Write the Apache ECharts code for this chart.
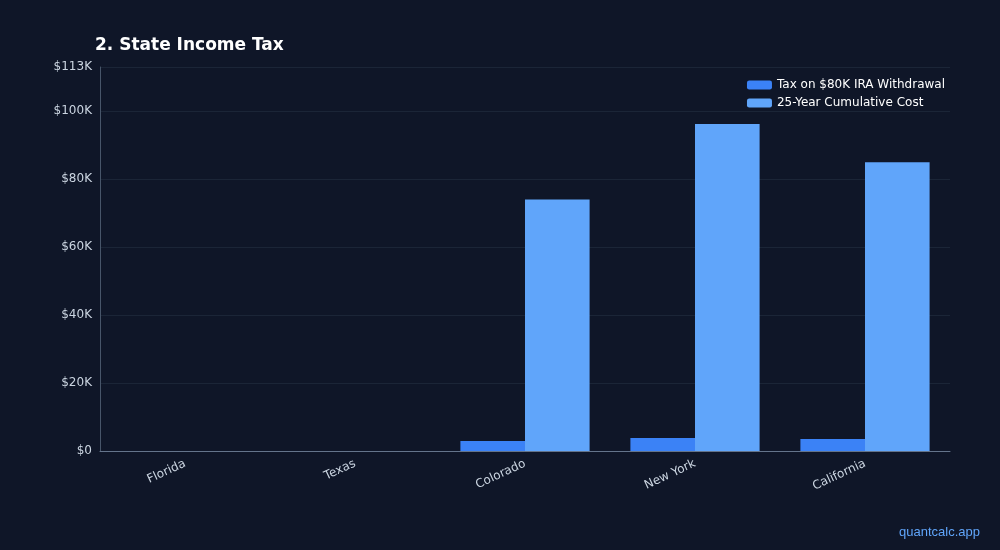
<!DOCTYPE html>
<html style="height: 100%">
<head>
	<meta charset="utf-8">
	<script type="text/javascript" src="https://cdn.jsdelivr.net/npm/echarts@6/dist/echarts.min.js"></script>
</head>
<body style="height: 100%; margin: 0; background: #0f1628">
	<div id="container" style="width:1000px; height:550px"></div>
	<script>
	var states = ['Florida', 'Texas', 'Colorado', 'New York', 'California'];
	var annualTax = [0, 0, 2960, 3850, 3500];
	var cumulativeCost = [0, 0, 74000, 96200, 85000];

	var myChart = echarts.init(document.getElementById('container'));
	var option = {
		backgroundColor: '#0f1628',
		textStyle: {fontFamily: 'DejaVu Sans'},
		title: {
			text: '2. State Income Tax',
			left: 90, top: 32,
			textStyle: {color: '#ffffff', fontSize: 17, fontWeight: 'bold'}
		},
		graphic: [{
			type: 'text', right: 20, bottom: 11,
			style: {text: 'quantcalc.app', fill: '#60a5fa', fontSize: 13}
		}],
		legend: {
			right: 50, top: 74, orient: 'vertical', itemGap: 6,
			itemWidth: 25, itemHeight: 9,
			textStyle: {color: '#ffffff', fontSize: 12},
			data: ['Tax on $80K IRA Withdrawal', '25-Year Cumulative Cost']
		},
		grid: {left: 100, right: 50, top: 67, bottom: 99},
		xAxis: {
			type: 'category',
			data: states,
			axisLine: {lineStyle: {color: '#64748b'}},
			axisTick: {alignWithLabel: true, lineStyle: {color: '#64748b'}},
			axisLabel: {color: '#cbd5e1', rotate: 25, fontSize: 12, margin: 12}
		},
		yAxis: {
			type: 'value', min: 0, max: 113000, interval: 20000,
			axisLine: {show: true, lineStyle: {color: '#475569'}},
			axisLabel: {color: '#cbd5e1', fontSize: 12, formatter: function (v) {
				return v === 0 ? '$0' : '$' + (v / 1000) + 'K';
			}},
			splitLine: {lineStyle: {color: '#1e293b', width: 0.8}}
		},
		series: [
			{name: 'Tax on $80K IRA Withdrawal', type: 'bar', data: annualTax,
				barGap: '0%', barCategoryGap: '24%', itemStyle: {color: '#3b82f6'}},
			{name: '25-Year Cumulative Cost', type: 'bar', data: cumulativeCost,
				itemStyle: {color: '#60a5fa'}}
		]
	};
	myChart.setOption(option, true);
	</script>
</body>
</html>
